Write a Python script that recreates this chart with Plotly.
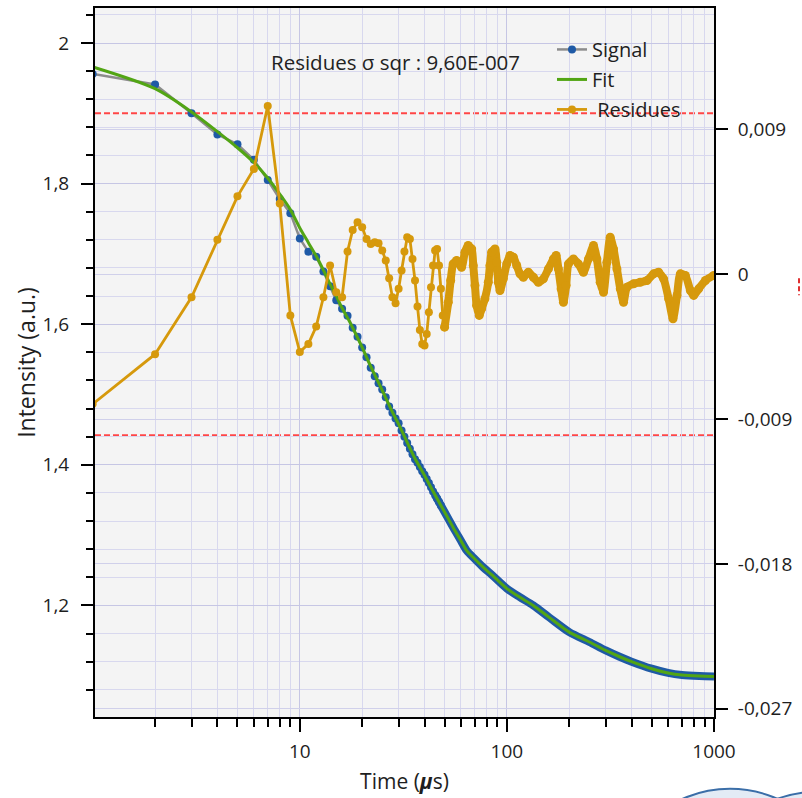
import plotly.graph_objects as go

# ---------------- data ----------------
signal_time = list(range(1, 49))
signal_value = [1.956, 1.941, 1.900, 1.870, 1.856, 1.834, 1.805, 1.778, 1.758, 1.722,
                1.703, 1.696, 1.675, 1.654, 1.634, 1.622, 1.612, 1.595, 1.582, 1.567,
                1.553, 1.538, 1.526, 1.516, 1.507, 1.496, 1.483, 1.474, 1.466, 1.459,
                1.449, 1.440, 1.431, 1.423, 1.415, 1.408, 1.403, 1.397, 1.391, 1.386,
                1.380, 1.374, 1.368, 1.362, 1.357, 1.352, 1.347, 1.342]

signal_band_time = [45, 50, 55, 60, 64, 70, 77, 85, 100, 115, 134, 160, 200, 250, 300,
                    350, 400, 500, 600, 700, 850, 1000]
signal_band_value = [1.357, 1.333, 1.311, 1.292, 1.278, 1.266, 1.254, 1.243, 1.224, 1.212,
                     1.200, 1.183, 1.162, 1.148, 1.136, 1.127, 1.120, 1.110, 1.104, 1.101,
                     1.0995, 1.099]

fit_time = [1, 2, 3, 4, 5, 6, 7, 8, 9, 10, 11, 12, 13, 14, 15, 16, 17, 18,
            20, 22, 25, 28, 30, 33, 36, 40, 45, 50, 55, 60, 64, 70, 77, 85,
            100, 115, 134, 160, 200, 250, 300, 350, 400, 500, 600, 700, 850, 1000]
fit_value = [1.966, 1.935, 1.902, 1.874, 1.851, 1.830, 1.808, 1.785, 1.763, 1.737,
             1.716, 1.697, 1.677, 1.657, 1.640, 1.623, 1.609, 1.595,
             1.567, 1.540, 1.506, 1.475, 1.458, 1.432, 1.409, 1.385,
             1.357, 1.333, 1.311, 1.292, 1.278, 1.266, 1.254, 1.243,
             1.224, 1.212, 1.200, 1.183, 1.162, 1.148, 1.136, 1.127, 1.120,
             1.110, 1.104, 1.101, 1.0995, 1.099]

residue_time = list(range(1, 51))
residue_value = [-0.00807, -0.00497, -0.00143, 0.00214, 0.00484, 0.00654, 0.01045, 0.00440, -0.00256, -0.00484,
                 -0.00433, -0.00325, -0.00143, 0.00054, -0.00112, -0.00143, 0.00141, 0.00275, 0.00323, 0.00292,
                 0.00219, 0.00188, 0.00199, 0.00192, 0.00147, 0.00085, -0.00025, -0.00143, -0.00180, -0.00091,
                 0.00023, 0.00141, 0.00230, 0.00219, 0.00095, -0.00039, -0.00200, -0.00346, -0.00433, -0.00443,
                 -0.00371, -0.00236, -0.00081, 0.00054, 0.00147, 0.00157, 0.00054, -0.00091, -0.00256, -0.00329]

residue_band_time = [50, 52.1, 53.5, 55.0, 57.2, 60.4, 62.7, 65.0, 67.6, 68.8,
                     70.1, 71.4, 73.5, 75.5, 78.3, 81.3, 82.8, 84.4, 87.6, 89.3,
                     90.9, 92.6, 96.1, 99.8, 103.5, 107.5, 111.5, 115.7, 120.1, 126.9,
                     134.2, 141.9, 150, 158.6, 167.7, 172.9, 177.3, 182.7, 187.5, 193.2,
                     198.2, 209.6, 221.5, 234.2, 247.7, 261.8, 271.9, 282.1, 292.7, 303.9,
                     315.3, 327.2, 339.8, 352.6, 365.8, 379.8, 408.8, 440.5, 474.7, 510.9,
                     540.2, 571.2, 603.9, 634, 663, 687.8, 727.2, 769, 797.7, 843.4,
                     908.9, 996.6]
residue_band_value = [-0.00329, -0.00174, -0.00039, 0.00064, 0.00085, 0.00043, 0.00137, 0.00178, 0.00157, 0.00054,
                      -0.00070, -0.00194, -0.00256, -0.00215, -0.00153, -0.00050, 0.00054, 0.00137, 0.00157, 0.00074,
                      -0.00050, -0.00101, -0.00029, 0.00064, 0.00116, 0.00106, 0.00054, 0.00002, -0.00019, 0.00012,
                      -0.00019, -0.00050, -0.00029, 0.00033, 0.00095, 0.00116, 0.00033, -0.00091, -0.00174, -0.00070,
                      0.00064, 0.00095, 0.00064, 0.00012, 0.00095, 0.00178, 0.00095, -0.00050, -0.00112, 0.00074,
                      0.00230, 0.00157, 0.00033, -0.00091, -0.00174, -0.00081, -0.00060, -0.00050, -0.00039, 0.00002,
                      0.00012, -0.00029, -0.00153, -0.00277, -0.00132, 0.00002, -0.00008, -0.00101, -0.00132, -0.00091,
                      -0.00039, -0.00008]

residue_limits = [0.01, -0.01]

x_tick_vals = [10, 100, 1000]
x_tick_text = ["10", "100", "1000"]
y_tick_vals = [1.2, 1.4, 1.6, 1.8, 2.0]
y_tick_text = ["1,2", "1,4", "1,6", "1,8", "2"]
y2_tick_vals = [-0.027, -0.018, -0.009, 0, 0.009]
y2_tick_text = ["-0,027", "-0,018", "-0,009", "0", "0,009"]

# ---------------- styling ----------------
W, H = 802, 798
ML, MR, MT, MB = 95, 88, 6, 81
PW, PH = W - ML - MR, H - MT - MB

def px(x):
    return (x - ML) / PW

def py(y):
    return (H - MB - y) / PH

FONT = "Open Sans"
BLUE = "#1f5aa6"
GRAY = "#8c8c8c"
GREEN = "#52a514"
ORANGE = "#d6990c"
TXT = "#1e1e1e"

fig = go.Figure()

fig.add_trace(go.Scatter(
    x=signal_time, y=signal_value, name="Signal", mode="lines+markers",
    line=dict(color=GRAY, width=2.5), marker=dict(color=BLUE, size=8),
    legendgroup="a"))
fig.add_trace(go.Scatter(
    x=signal_band_time, y=signal_band_value, mode="lines", showlegend=False,
    line=dict(color=BLUE, width=8, shape="spline", smoothing=0.8),
    legendgroup="a", hoverinfo="skip"))
fig.add_trace(go.Scatter(
    x=fit_time, y=fit_value, name="Fit", mode="lines",
    line=dict(color=GREEN, width=3, shape="spline", smoothing=0.8), legendgroup="b"))
fig.add_trace(go.Scatter(
    x=residue_time, y=residue_value, name="\u00a0Residues", mode="lines+markers",
    line=dict(color=ORANGE, width=2.8), marker=dict(color=ORANGE, size=8),
    yaxis="y2", legendgroup="c"))
fig.add_trace(go.Scatter(
    x=residue_band_time, y=residue_band_value, mode="lines+markers", showlegend=False,
    line=dict(color=ORANGE, width=8, shape="spline", smoothing=0.6),
    marker=dict(color=ORANGE, size=9),
    yaxis="y2", legendgroup="c"))

shapes = []
for v in residue_limits:
    shapes.append(dict(type="line", xref="paper", x0=0, x1=1, yref="y2", y0=v, y1=v,
                       line=dict(color="#ff4646", width=2, dash="6px,3px"),
                       layer="between"))
# small red mark right of the chart
shapes.append(dict(type="line", xref="paper", yref="paper", x0=px(799), x1=px(799),
                   y0=py(277), y1=py(294),
                   line=dict(color="#e03030", width=2, dash="5px,3px")))
# partial bubbles at the bottom-right edge of the screenshot
shapes.append(dict(type="circle", xref="paper", yref="paper",
                   x0=px(613), x1=px(847), y0=py(1023), y1=py(789),
                   line=dict(color="#3b6ea8", width=2), fillcolor="#e3ebf5"))
shapes.append(dict(type="circle", xref="paper", yref="paper",
                   x0=px(700), x1=px(934), y0=py(1026), y1=py(792),
                   line=dict(color="#3b6ea8", width=2), fillcolor="#e3ebf5"))

fig.update_layout(
    width=W, height=H,
    margin=dict(l=ML, r=MR, t=MT, b=MB, pad=0),
    paper_bgcolor="white", plot_bgcolor="#f4f4f4",
    font=dict(family=FONT, color=TXT, size=18),
    separators=",.",
    showlegend=True,
    legend=dict(x=px(552), y=py(28), xanchor="left", yanchor="top",
                bgcolor="rgba(0,0,0,0)", borderwidth=0,
                font=dict(family=FONT, size=20, color=TXT),
                traceorder="grouped", tracegroupgap=1, itemwidth=30),
    shapes=shapes,
    annotations=[dict(text="Residues σ sqr : 9,60E-007", xref="paper", yref="paper",
                      x=px(269), y=py(60), xanchor="left", yanchor="middle",
                      showarrow=False, font=dict(family=FONT, size=20.5, color="#222222"))],
    xaxis=dict(type="log", range=[0.011, 3.0],
               tickmode="array", tickvals=x_tick_vals, ticktext=x_tick_text,
               ticks="outside", ticklen=13, tickwidth=2, tickcolor="black",
               ticklabelstandoff=3,
               tickfont=dict(family=FONT, size=19, color=TXT),
               showline=True, linecolor="black", linewidth=2, mirror=True,
               showgrid=True, gridcolor="#c6c6e4", gridwidth=1, zeroline=False,
               minor=dict(ticks="outside", ticklen=8, tickwidth=2, tickcolor="black",
                          dtick="D1", showgrid=True, gridcolor="#d8d8ee", gridwidth=1),
               title=dict(text="Time (<b><i>µ</i></b>s)", standoff=12,
                          font=dict(family=FONT, size=21, color=TXT))),
    yaxis=dict(range=[1.0413, 2.0498],
               tickmode="array", tickvals=y_tick_vals, ticktext=y_tick_text,
               ticks="outside", ticklen=12, tickwidth=2, tickcolor="black",
               ticklabelstandoff=8,
               tickfont=dict(family=FONT, size=19, color=TXT),
               showline=True, linecolor="black", linewidth=2, mirror=True,
               showgrid=True, gridcolor="#c6c6e4", gridwidth=1, zeroline=False,
               minor=dict(tickmode="linear", tick0=0, dtick=0.04, ticks="outside",
                          ticklen=7, tickwidth=2, tickcolor="black",
                          showgrid=True, gridcolor="#d8d8ee", gridwidth=1),
               title=dict(text="Intensity (a.u.)", standoff=0,
                          font=dict(family=FONT, size=23, color=TXT))),
    yaxis2=dict(overlaying="y", side="right", range=[-0.027514, 0.01654],
                tickmode="array", tickvals=y2_tick_vals, ticktext=y2_tick_text,
                ticks="outside", ticklen=12, tickwidth=2, tickcolor="black",
                ticklabelstandoff=6,
                tickfont=dict(family=FONT, size=19, color=TXT),
                showline=True, linecolor="black", linewidth=2,
                showgrid=True, gridcolor="#d0d0ea", gridwidth=1, zeroline=False),
)

fig.write_html("out.html", config={"displayModeBar": False},
               post_script="document.body.style.margin='0px';document.body.style.overflow='hidden';")
